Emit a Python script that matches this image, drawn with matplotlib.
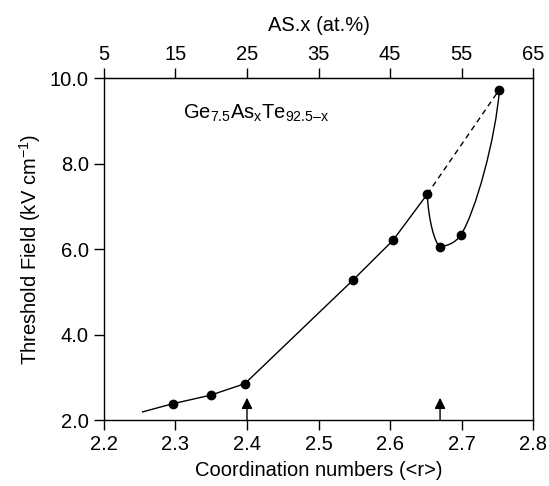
import matplotlib.pyplot as plt
from matplotlib.path import Path
from matplotlib.patches import PathPatch

plt.rcParams['font.family'] = ['Liberation Sans', 'DejaVu Sans']
plt.rcParams['mathtext.fontset'] = 'custom'
plt.rcParams['mathtext.rm'] = 'Liberation Sans'

# straight part of the curve (first point is the line start, no marker)
r_line = [2.254, 2.296, 2.349, 2.397, 2.548, 2.604, 2.652]
f_line = [2.19, 2.38, 2.58, 2.85, 5.27, 6.20, 7.28]

# all measured points
r_pts = [2.296, 2.349, 2.397, 2.548, 2.604, 2.652, 2.670, 2.699, 2.753]
f_pts = [2.38, 2.58, 2.85, 5.27, 6.20, 7.28, 6.05, 6.33, 9.73]

# curved branch after the drop
r_curve = [2.652, 2.670, 2.699, 2.753]
f_curve = [7.28, 6.05, 6.33, 9.73]

arrow_r = [2.4, 2.67]

FS = 14.5

fig = plt.figure(figsize=(5.49, 4.86), dpi=100)
ax = fig.add_axes([0.1894, 0.1358, 0.7815, 0.7037])

ax.plot(r_line, f_line, color='black', lw=1.0)
ax.plot([r_curve[0], r_curve[-1]], [f_curve[0], f_curve[-1]],
        color='black', lw=1.0, ls=(0, (4, 3)))

# smooth branch drawn as bezier segments between the points
verts = [
    (r_curve[0], f_curve[0]),
    (r_curve[0] + 0.002, f_curve[0] - 0.6), (r_curve[1] - 0.008, f_curve[1] + 0.1), (r_curve[1], f_curve[1]),
    (r_curve[1] + 0.01, f_curve[1] + 0.03), (r_curve[2] - 0.008, f_curve[2] - 0.2), (r_curve[2], f_curve[2]),
    (r_curve[2] + 0.02, f_curve[2] + 0.5), (r_curve[3] - 0.005, f_curve[3] - 1.13), (r_curve[3], f_curve[3]),
]
codes = [Path.MOVETO] + [Path.CURVE4] * 9
ax.add_patch(PathPatch(Path(verts, codes), fill=False, edgecolor='black', lw=1.0))

ax.plot(r_pts, f_pts, 'o', color='black', ms=6, zorder=5)

for r in arrow_r:
    ax.annotate('', xy=(r, 2.52), xytext=(r, 2.0),
                arrowprops=dict(arrowstyle='-|>,head_length=0.5,head_width=0.25',
                                color='black', lw=1.0,
                                mutation_scale=13, shrinkA=0, shrinkB=0))

ax.text(2.31, 9.05, r'Ge$_{\mathregular{7.5}}$As$_{\mathregular{x}}$Te$_{\mathregular{92.5–x}}$',
        fontsize=FS, va='baseline')

ax.set_xlim(2.2, 2.8)
ax.set_ylim(2.0, 10.0)
ax.set_xticks([2.2, 2.3, 2.4, 2.5, 2.6, 2.7, 2.8])
ax.set_xticklabels(['2.2', '2.3', '2.4', '2.5', '2.6', '2.7', '2.8'])
ax.set_yticks([2, 4, 6, 8, 10])
ax.set_yticklabels(['2.0', '4.0', '6.0', '8.0', '10.0'])
ax.tick_params(direction='out', length=7, width=1.0, labelsize=FS, pad=4)
ax.set_xlabel('Coordination numbers (<r>)', fontsize=FS, labelpad=5)
ax.set_ylabel('Threshold Field (kV cm$^{\\mathregular{-1}}$)', fontsize=FS, labelpad=5)

top = ax.secondary_xaxis('top', functions=(lambda r: 5 + (r - 2.2) * 100,
                                           lambda a: 2.2 + (a - 5) / 100))
top.set_xticks([5, 15, 25, 35, 45, 55, 65])
top.tick_params(direction='out', length=7, width=1.0, labelsize=FS, pad=3)
top.set_xlabel('AS.x (at.%)', fontsize=FS, labelpad=10)

for s in ax.spines.values():
    s.set_linewidth(1.0)

fig.savefig('out.png', dpi=100)
